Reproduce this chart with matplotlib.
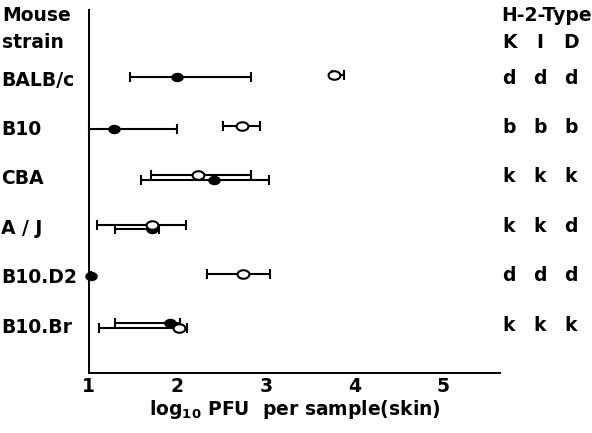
import matplotlib
matplotlib.use('Agg')
import matplotlib.pyplot as plt
from matplotlib.path import Path
import numpy as np

# data (log10 PFU per sample, skin)
strains = ["BALB/c", "B10", "CBA", "A / J", "B10.D2", "B10.Br"]

filled_mean = [1.99, 1.28, 2.41, 1.71, 1.02, 1.92]
filled_lo = [1.46, 1.00, 1.59, 1.29, 1.02, 1.30]
filled_hi = [2.83, 2.00, 3.03, 1.79, 1.02, 2.03]

open_mean = [3.76, 2.73, 2.23, 1.71, 2.74, 2.02]
open_lo = [3.74, 2.51, 1.70, 1.09, 2.33, 1.11]
open_hi = [3.88, 2.93, 2.83, 2.10, 3.04, 2.11]

h2_K = ["d", "b", "k", "k", "d", "k"]
h2_I = ["d", "b", "k", "k", "d", "k"]
h2_D = ["d", "b", "k", "d", "d", "k"]

# small vertical shifts so overlapping bars stay apart (layout only)
filled_shift = [-0.02, 0.02, 0.06, 0.06, 0.0, -0.04]
open_shift = [-0.06, -0.04, -0.04, -0.03, -0.04, 0.05]

FS = 13.5
W = 'bold'

# slightly flattened circle, like the hand-drawn symbols
t = np.linspace(0, 2 * np.pi, 60)
ellipse = Path(np.column_stack([np.cos(t), 0.72 * np.sin(t)]), closed=True)

fig = plt.figure(figsize=(5.92, 4.33), dpi=100)
ax = fig.add_axes([0.150, 0.1386, 0.695, 0.838])

rows = np.arange(len(strains))
fm = np.array(filled_mean)
om = np.array(open_mean)
ferr = [fm - np.array(filled_lo), np.array(filled_hi) - fm]
oerr = [om - np.array(open_lo), np.array(open_hi) - om]

ax.errorbar(fm, rows + np.array(filled_shift), xerr=ferr, fmt='none', ecolor='black',
            elinewidth=1.5, capsize=3.5, capthick=1.5, clip_on=False, zorder=2)
ax.plot(fm, rows + np.array(filled_shift), linestyle='none', marker=ellipse,
        ms=8, mfc='black', mec='black', clip_on=False, zorder=3)
ax.errorbar(om, rows + np.array(open_shift), xerr=oerr, fmt='none', ecolor='black',
            elinewidth=1.5, capsize=3.5, capthick=1.5, clip_on=False, zorder=2)
ax.plot(om, rows + np.array(open_shift), linestyle='none', marker=ellipse,
        ms=8.5, mfc='white', mec='black', mew=1.5, clip_on=False, zorder=4)

ax.set_xlim(1, 5.64)
ax.set_ylim(5.97, -1.38)
for s in ['top', 'right']:
    ax.spines[s].set_visible(False)
ax.spines['left'].set_linewidth(1.4)
ax.spines['bottom'].set_linewidth(1.4)

ax.set_xticks([1, 2, 3, 4, 5])
ax.set_xticklabels(['1', '2', '3', '4', '5'], fontsize=FS, fontweight=W)
ax.tick_params(axis='x', length=0, pad=3)
ax.set_yticks(rows)
ax.set_yticklabels(strains, fontsize=FS, fontweight=W, ha='left')
ax.tick_params(axis='y', length=0, pad=63)
ax.set_xlabel(r'log$_{\mathbf{10}}$ PFU  per sample(skin)', fontsize=FS,
              fontweight=W, labelpad=1)

fig.text(0.003, 0.965, "Mouse", fontsize=FS, fontweight=W, va='center', ha='left')
fig.text(0.003, 0.903, "strain", fontsize=FS, fontweight=W, va='center', ha='left')

# H-2 type columns on the right
fig.text(0.999, 0.965, "H-2-Type", fontsize=FS, fontweight=W, va='center', ha='right')
col_x = [0.860, 0.912, 0.964]
for x, t in zip(col_x, ["K", "I", "D"]):
    fig.text(x, 0.903, t, fontsize=FS, fontweight=W, va='center', ha='center')
tr = matplotlib.transforms.blended_transform_factory(fig.transFigure, ax.transData)
for x, col in zip(col_x, [h2_K, h2_I, h2_D]):
    for r, letter in zip(rows, col):
        ax.text(x, r, letter, transform=tr, fontsize=FS, fontweight=W,
                va='center', ha='center')

fig.savefig('out.png', dpi=100)
